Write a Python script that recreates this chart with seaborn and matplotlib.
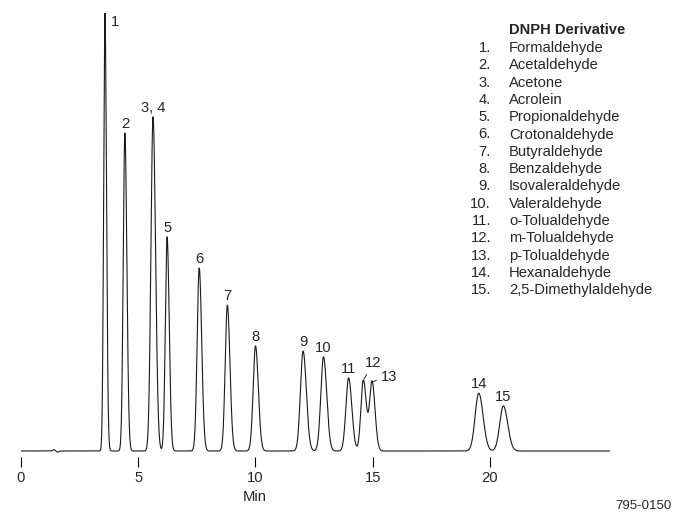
import numpy as np
import pandas as pd
import matplotlib
matplotlib.use("Agg")
import matplotlib.pyplot as plt
import seaborn as sns

# Peak table (retention time in min, relative height %, sigma in min)
peak_labels = ["1", "2", "3, 4", "5", "6", "7", "8", "9", "10", "11", "12", "13", "14", "15"]
peak_times = [3.58, 4.43, 5.63, 6.23, 7.60, 8.80, 10.00, 12.03, 12.90, 13.97, 14.60, 14.97, 19.52, 20.57]
peak_heights = [100.0, 72.6, 76.3, 48.9, 41.8, 33.3, 24.0, 22.8, 21.5, 16.7, 16.2, 15.8, 13.2, 10.3]
peak_sigmas = [0.055, 0.07, 0.09, 0.075, 0.088, 0.092, 0.1, 0.115, 0.115, 0.115, 0.105, 0.105, 0.155, 0.155]

# small baseline disturbance near 1.5 min
blip_times = [1.40, 1.55]
blip_heights = [0.3, -0.25]
blip_sigmas = [0.05, 0.05]

run_end = 25.1
tick_values = [0, 5, 10, 15, 20]

compounds = ["Formaldehyde", "Acetaldehyde", "Acetone", "Acrolein", "Propionaldehyde",
             "Crotonaldehyde", "Butyraldehyde", "Benzaldehyde", "Isovaleraldehyde",
             "Valeraldehyde", "o-Tolualdehyde", "m-Tolualdehyde", "p-Tolualdehyde",
             "Hexanaldehyde", "2,5-Dimethylaldehyde"]


def build_trace():
    t = np.linspace(0, run_end, 6000)
    y = np.zeros_like(t)
    for rt, h, s in zip(peak_times + blip_times, peak_heights + blip_heights, peak_sigmas + blip_sigmas):
        # slight tailing: wider on the right side
        sd = np.where(t < rt, s, s * 1.2)
        y += h * np.exp(-0.5 * ((t - rt) / sd) ** 2)
    return pd.DataFrame({"time": t, "signal": y})


sns.set_style("white")
plt.rcParams["font.family"] = ["Liberation Sans", "DejaVu Sans"]
FS = 10.6

fig = plt.figure(figsize=(6.73, 5.14), dpi=100)
W, H = 673, 514
ax = fig.add_axes([21 / W, 57 / H, 652 / W, 444 / H])

df = build_trace()
sns.lineplot(data=df, x="time", y="signal", ax=ax, color="#1a1a1a", lw=0.8)

ax.set_xlim(0, 652 / 23.45)
ax.set_ylim(-1.37, 100)
for sp in ax.spines.values():
    sp.set_visible(False)
ax.set_yticks([])
ax.set_ylabel("")
ax.set_xticks(tick_values)
ax.set_xticklabels([str(v) for v in tick_values], fontsize=FS)
ax.tick_params(axis="x", direction="out", length=7.2, width=0.8, color="black", pad=3, bottom=True)
ax.set_xlabel("Min", fontsize=FS)
ax.xaxis.set_label_coords((255 - 21) / 652, -0.075)

# peak labels (offsets in pixels)
offsets = {"1": (6, -2, "left", "top"), "12": (10, 17, "center", "center"), "13": (9, 5, "left", "center")}
for lab, rt, h in zip(peak_labels, peak_times, peak_heights):
    if lab in ("12", "13"):
        dx, dy, ha, va = offsets[lab]
        ax.annotate(lab, xy=(rt, h), xytext=(dx, dy), textcoords="offset pixels",
                    ha=ha, va=va, fontsize=FS,
                    arrowprops=dict(arrowstyle="-", lw=0.6, color="black", shrinkA=1, shrinkB=1))
    elif lab in offsets:
        dx, dy, ha, va = offsets[lab]
        ax.annotate(lab, xy=(rt, h), xytext=(dx, dy), textcoords="offset pixels",
                    ha=ha, va=va, fontsize=FS)
    else:
        ax.annotate(lab, xy=(rt, h), xytext=(0, 2), textcoords="offset pixels",
                    ha="center", va="bottom", fontsize=FS)

# compound key
fig.text(509 / W, 1 - 30 / H, "DNPH Derivative", fontsize=FS, fontweight="bold", ha="left", va="center")
for i, name in enumerate(compounds):
    yy = 1 - (48 + i * 17.3) / H
    fig.text(491 / W, yy, f"{i + 1}.", fontsize=FS, ha="right", va="center")
    fig.text(509 / W, yy, name, fontsize=FS, ha="left", va="center")

fig.text(672 / W, 1 - 506 / H, "795-0150", fontsize=9.5, ha="right", va="center")

fig.savefig("out.png", dpi=100)
plt.close(fig)
